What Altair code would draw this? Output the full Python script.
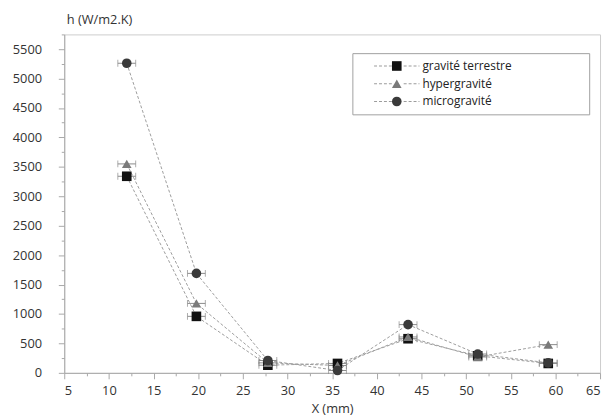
import altair as alt
import pandas as pd

# ---- data ----
x_mm = [12.0, 19.8, 27.8, 35.6, 43.5, 51.3, 59.2]
series_names = ["gravité terrestre", "hypergravité", "microgravité"]
h_terrestre = [3340, 960, 130, 160, 580, 290, 160]
h_hyper = [3550, 1180, 170, 125, 610, 270, 480]
h_micro = [5260, 1690, 210, 40, 820, 320, 170]
x_err = 1.0

x_ticks = [5, 10, 15, 20, 25, 30, 35, 40, 45, 50, 55, 60, 65]
x_minor = [7.5, 12.5, 17.5, 22.5, 27.5, 32.5, 37.5, 42.5, 47.5, 52.5, 57.5, 62.5]
y_ticks = [0, 500, 1000, 1500, 2000, 2500, 3000, 3500, 4000, 4500, 5000, 5500]
y_minor = [250, 750, 1250, 1750, 2250, 2750, 3250, 3750, 4250, 4750, 5250, 5750]

line_names = ["~" + n for n in series_names]  # separate key for the dashed-line legend

rows = []
for name, lname, vals in zip(series_names, line_names, [h_terrestre, h_hyper, h_micro]):
    for i, (x, h) in enumerate(zip(x_mm, vals)):
        rows.append({"serie": name, "serie_l": lname, "x": x, "h": h,
                     "lo": x - x_err, "hi": x + x_err, "i": i})
df = pd.DataFrame(rows)

caps = pd.concat([
    df.assign(xc=df["lo"]),
    df.assign(xc=df["hi"]),
])

FONT = "Open Sans"

# dashed legend line (unit path, scaled by sqrt(symbolSize)/2 = 5 px)
def _dash_path():
    segs = [(-4.8, -4.2), (-3.8, -3.2), (-2.8, -2.2), (-1.8, -1.2),
            (1.2, 1.8), (2.2, 2.8), (3.2, 3.8), (4.2, 4.4)]
    return "".join(f"M{a},-0.1H{b}V0.1H{a}Z" for a, b in segs)
DASH_PATH = _dash_path()

xscale = alt.Scale(domain=[5, 65], nice=False, zero=False)
yscale = alt.Scale(domain=[0, 5750], nice=False)

x_axis = alt.Axis(values=x_ticks, title="X (mm)", tickSize=6,
                  labelPadding=6, titlePadding=5, grid=False, labelOverlap=False)
y_axis = alt.Axis(values=y_ticks, title="h (W/m2.K)", tickSize=6,
                  labelPadding=17, grid=False, format="d", labelOverlap=False,
                  titleAngle=0, titleX=2, titleY=-15, titleAlign="left",
                  titleBaseline="middle")
x_axis_minor = alt.Axis(values=x_minor, orient="bottom", labels=False, domain=False,
                        title=None, tickSize=3, grid=False)
y_axis_minor = alt.Axis(values=y_minor, orient="left", labels=False, domain=False,
                        title=None, tickSize=3, grid=False)

base = alt.Chart(df)

lines = base.mark_line(strokeWidth=1, strokeDash=[3, 2]).encode(
    x=alt.X("x:Q", scale=xscale, axis=x_axis),
    y=alt.Y("h:Q", scale=yscale, axis=y_axis),
    detail="serie:N",
    order="i:Q",
    stroke=alt.Stroke(
        "serie_l:N",
        scale=alt.Scale(domain=line_names, range=["#9c9c9c"] * 3),
        legend=alt.Legend(
            title=None, orient="none", legendX=292, legendY=19,
            symbolType=DASH_PATH, symbolSize=100, symbolFillColor="#9c9c9c",
            symbolStrokeWidth=0, symbolOffset=33,
            labelColor="transparent", labelFont=FONT, labelFontSize=12,
            labelExpr="datum.label + '\u2003\u2003'",
            labelOffset=83, rowPadding=6, padding=7,
            strokeColor="#a0a0a0",
        ),
    ),
)

ebars = base.mark_rule(color="#8a8a8a", strokeWidth=1).encode(
    x=alt.X("lo:Q", scale=xscale, axis=x_axis_minor),
    x2="hi:Q",
    y=alt.Y("h:Q", scale=yscale, axis=y_axis_minor),
)
ecaps = alt.Chart(caps).mark_tick(color="#8a8a8a", orient="vertical", size=7, thickness=1).encode(
    x=alt.X("xc:Q", axis=None), y=alt.Y("h:Q", axis=None),
)

points = base.mark_point(filled=True, size=95, opacity=1).encode(
    x=alt.X("x:Q", axis=None), y=alt.Y("h:Q", axis=None),
    shape=alt.Shape(
        "serie:N",
        scale=alt.Scale(domain=series_names, range=["square", "triangle-up", "circle"]),
        legend=alt.Legend(
            title=None, orient="none", legendX=324, legendY=19,
            labelFont=FONT, labelFontSize=12, labelColor="#222",
            labelOffset=20, rowPadding=6, padding=7, symbolSize=95,
            symbolStrokeWidth=0,
        ),
    ),
    fill=alt.Fill(
        "serie:N",
        scale=alt.Scale(domain=series_names, range=["#111111", "#7a7a7a", "#3a3a3a"]),
    ),
)

chart = alt.layer(lines, ebars, ecaps, points).resolve_axis(
    x="independent", y="independent"
).properties(
    width=543, height=343,
    autosize=alt.AutoSizeParams(type="none"),
    padding={"left": 57, "top": 24, "right": 3, "bottom": 45},
).configure_view(stroke="#cccccc", strokeWidth=1).configure_axis(
    domainColor="#a8a8a8", tickColor="#a8a8a8", labelOverlap=False,
    labelFont=FONT, labelFontSize=13, labelColor="#333",
    titleFont=FONT, titleFontSize=13, titleColor="#333", titleFontWeight="normal",
).configure_axisX(labelPadding=6, titlePadding=5).configure_axisY(labelPadding=17).configure_legend(labelFont=FONT)

chart.save("out.html", embed_options={"renderer": "svg", "actions": False})
